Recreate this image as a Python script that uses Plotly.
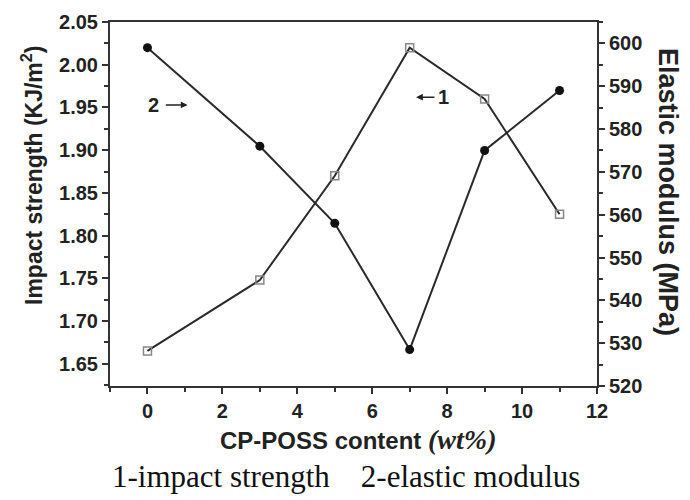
import plotly.graph_objects as go

content = [0, 3, 5, 7, 9, 11]
impact_strength = [1.665, 1.748, 1.870, 2.020, 1.960, 1.825]
elastic_modulus = [599, 576, 558, 528.5, 575, 589]

x_ticks = [0, 2, 4, 6, 8, 10, 12]
left_ticks = [1.65, 1.70, 1.75, 1.80, 1.85, 1.90, 1.95, 2.00, 2.05]
right_ticks = [520, 530, 540, 550, 560, 570, 580, 590, 600]

line_col = "#2a2a2a"
SANS = "Liberation Sans, Arial"
tick_font = dict(family=SANS, size=20, color="#222", weight="bold")
title_font = dict(family=SANS, size=23, color="#222", weight="bold")

L, R, T, B = 110, 93, 22, 114
PW, PH = 690 - L - R, 500 - T - B


def px(xp):
    return (xp - L) / PW


def py(yp):
    return (500 - B - yp) / PH


fig = go.Figure()
fig.add_trace(go.Scatter(
    x=content, y=impact_strength, mode="lines+markers", yaxis="y",
    line=dict(color=line_col, width=2),
    marker=dict(symbol="square-open", size=8, color="#888", line=dict(width=1.5, color="#888")),
    showlegend=False))
fig.add_trace(go.Scatter(
    x=content, y=elastic_modulus, mode="lines+markers", yaxis="y2",
    line=dict(color=line_col, width=2),
    marker=dict(symbol="circle", size=9, color="#111"),
    showlegend=False))

fig.update_layout(
    width=690, height=500,
    margin=dict(l=L, r=R, t=T, b=B),
    plot_bgcolor="white", paper_bgcolor="white",
    xaxis=dict(range=[-1, 12], tickvals=x_ticks, ticks="outside", ticklen=6, tickwidth=1.5,
               tickcolor="#333", showline=True, linecolor="#333", linewidth=2, mirror=True,
               showgrid=False, zeroline=False, tickfont=tick_font,
               minor=dict(dtick=1, tick0=0, ticks="outside", ticklen=4, tickcolor="#333", showgrid=False)),
    yaxis=dict(range=[1.624, 2.05], tickvals=left_ticks, tickformat=".2f", ticks="outside", ticklen=6,
               tickwidth=1.5, tickcolor="#333", showline=True, linecolor="#333", linewidth=2,
               showgrid=False, zeroline=False, tickfont=tick_font,
               minor=dict(dtick=0.025, tick0=1.65, ticks="outside", ticklen=4, tickcolor="#333", showgrid=False)),
    yaxis2=dict(range=[520, 605], tickvals=right_ticks, overlaying="y", side="right", ticks="outside",
                ticklen=6, tickwidth=1.5, tickcolor="#333", showline=True, linecolor="#333", linewidth=2,
                showgrid=False, zeroline=False, tickfont=tick_font,
                minor=dict(dtick=5, tick0=520, ticks="outside", ticklen=4, tickcolor="#333", showgrid=False)),
)

ann_font = dict(family=SANS, size=20, color="#222", weight="bold")
# curve labels with arrows
fig.add_annotation(x=0.16, y=1.953, xref="x", yref="y", text="2", showarrow=False, font=ann_font,
                   xanchor="center", yanchor="middle")
fig.add_annotation(x=1.07, y=1.953, ax=0.45, ay=1.953, xref="x", yref="y", axref="x", ayref="y",
                   text="", showarrow=True, arrowhead=2, arrowsize=0.9, arrowwidth=1.5, arrowcolor="#222")
fig.add_annotation(x=7.9, y=1.962, xref="x", yref="y", text="1", showarrow=False, font=ann_font,
                   xanchor="center", yanchor="middle")
fig.add_annotation(x=7.17, y=1.962, ax=7.7, ay=1.962, xref="x", yref="y", axref="x", ayref="y",
                   text="", showarrow=True, arrowhead=2, arrowsize=0.9, arrowwidth=1.5, arrowcolor="#222")

# axis titles
fig.add_annotation(x=px(32), y=py(176), xref="paper", yref="paper",
                   text="Impact strength (KJ/m<sup>2</sup>)", showarrow=False, textangle=-90,
                   xanchor="center", yanchor="middle", font=title_font)
fig.add_annotation(x=px(668), y=py(192), xref="paper", yref="paper",
                   text="Elastic modulus (MPa)", showarrow=False, textangle=90,
                   xanchor="center", yanchor="middle",
                   font=dict(family=SANS, size=27, color="#222", weight="bold"))
fig.add_annotation(x=px(358), y=py(440), xref="paper", yref="paper",
                   text="CP-POSS content <span style='font-family:Liberation Serif;font-style:italic;font-weight:bold;font-size:28px'>(wt%)</span>",
                   showarrow=False, xanchor="center", yanchor="middle",
                   font=dict(family=SANS, size=24, color="#222", weight="bold"))

# caption
fig.add_annotation(x=px(346), y=py(476), xref="paper", yref="paper",
                   text="1-impact strength&nbsp;&nbsp;&nbsp;&nbsp;2-elastic modulus", showarrow=False,
                   xanchor="center", yanchor="middle",
                   font=dict(family="Liberation Serif, Times New Roman", size=31, color="#111"))

fig.write_html("out.html")
